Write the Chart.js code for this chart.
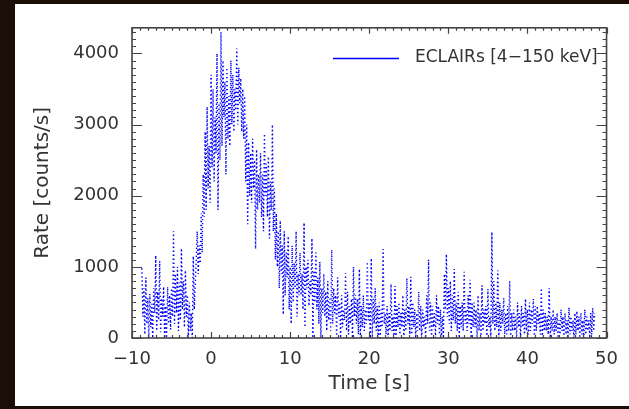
<!DOCTYPE html>
<html><head><meta charset="utf-8">
<script src="https://cdn.jsdelivr.net/npm/chart.js@4.4.0/dist/chart.umd.min.js"></script>
<style>
html,body{margin:0;padding:0;background:#1b0e06;width:629px;height:409px;overflow:hidden}
#panel{position:absolute;left:15px;top:4px;width:614px;height:402px;background:#fff}
</style></head><body>
<div id="panel"><canvas id="c" width="614" height="402"></canvas></div>
<script>
const seriesLabel = 'ECLAIRs [4\u2212150 keV]';
const xTitle = 'Time [s]';
const yTitle = 'Rate [counts/s]';
// light-curve bins: start time and bin width (s); 8 bins per row = 1 s
const binStart = -8.75;
const binWidth = 0.125;
const rates = [
  980, 300, 700, 50, 850, 200, 560, 0,
  620, 150, 480, 0, 700, 350, 1160, 100,
  650, 250, 1080, 80, 560, 300, 720, 0,
  450, 0, 720, 200, 600, 120, 700, 300,
  1500, 200, 900, 350, 1000, 100, 780, 250,
  1260, 400, 800, 150, 950, 300, 600, 0,
  500, 100, 350, 0, 1150, 400, 750, 1100,
  1500, 900, 1300, 1050, 1750, 1200, 2300, 1700,
  2900, 1800, 3250, 2100, 2700, 1900, 3700, 2400,
  3500, 2200, 3100, 2600, 4000, 1800, 3300, 2500,
  4300, 2700, 3900, 3100, 3600, 2300, 3800, 2800,
  3400, 2700, 3900, 3000, 3700, 2900, 3500, 3200,
  4070, 3000, 3800, 3300, 3650, 2900, 3500, 2800,
  3400, 2200, 3000, 1600, 2750, 2000, 2600, 1900,
  2800, 2100, 2500, 1250, 2650, 1800, 2300, 1900,
  2600, 1700, 2300, 1500, 2870, 2000, 2450, 1700,
  2550, 1400, 2200, 1800, 3000, 1500, 2100, 1100,
  1750, 1000, 1500, 700, 1650, 900, 1300, 330,
  1500, 600, 1200, 850, 1430, 400, 1000, 200,
  1300, 500, 1050, 700, 1500, 300, 900, 600,
  1200, 600, 900, 400, 1620, 150, 1000, 700,
  1100, 450, 800, 600, 1400, 0, 950, 500,
  1200, 400, 850, 200, 1070, 0, 700, 350,
  900, 300, 650, 100, 800, 250, 550, 100,
  1240, 200, 700, 350, 600, 0, 850, 300,
  500, 0, 600, 150, 400, 250, 910, 100,
  650, 50, 450, 200, 550, 0, 1000, 300,
  600, 200, 550, 50, 970, 0, 450, 150,
  600, 100, 400, 200, 1070, 250, 500, 0,
  1120, 0, 550, 200, 700, 100, 450, 0,
  500, 0, 400, 150, 1250, 200, 350, 50,
  450, 0, 350, 100, 760, 100, 300, 0,
  730, 0, 450, 150, 500, 50, 350, 150,
  600, 0, 400, 100, 840, 200, 450, 50,
  860, 50, 500, 150, 400, 0, 350, 100,
  650, 100, 450, 0, 400, 150, 300, 0,
  600, 200, 1100, 100, 500, 0, 450, 150,
  350, 0, 600, 200, 450, 50, 400, 0,
  300, 0, 900, 400, 1180, 300, 700, 200,
  800, 100, 600, 250, 970, 200, 500, 100,
  650, 0, 450, 150, 500, 100, 930, 200,
  400, 100, 600, 200, 820, 0, 500, 150,
  500, 150, 400, 0, 600, 100, 350, 0,
  740, 100, 400, 200, 450, 0, 690, 150,
  300, 0, 1490, 200, 800, 100, 500, 150,
  950, 0, 500, 100, 400, 200, 560, 50,
  350, 50, 450, 100, 800, 0, 350, 100,
  400, 100, 300, 0, 500, 150, 350, 0,
  450, 150, 350, 50, 550, 100, 400, 50,
  500, 100, 400, 200, 550, 0, 450, 100,
  450, 200, 350, 50, 700, 0, 400, 100,
  350, 100, 300, 50, 700, 0, 300, 100,
  400, 50, 300, 100, 350, 0, 250, 50,
  400, 100, 300, 0, 350, 50, 250, 0,
  430, 50, 300, 100, 250, 0, 350, 50,
  380, 100, 300, 0, 350, 50, 250, 0,
  400, 50, 300, 100, 250, 0, 350, 50,
  420, 100, 350
];
const xTicks = [-10, 0, 10, 20, 30, 40, 50];
const yTicks = [0, 1000, 2000, 3000, 4000];
const xRange = [-10, 50];
const yRange = [0, 4360];
const xMinorStep = 1;
const yMinorStep = 100;

const points = rates.map((r, i) => ({x: binStart + i * binWidth, y: r}));

const FONT = "'DejaVu Sans', sans-serif";
const TXT = '#333333';

const framePlugin = {
  id: 'frame',
  afterDatasetsDraw(chart) {
    const {ctx, chartArea: a, scales: {x, y}} = chart;
    ctx.save();
    ctx.strokeStyle = '#444';
    ctx.lineWidth = 1.2;
    ctx.beginPath();
    for (let v = xRange[0]; v <= xRange[1]; v += xMinorStep) {
      const px = Math.round(x.getPixelForValue(v)) + 0.5;
      const L = xTicks.includes(v) ? 6 : 3;
      ctx.moveTo(px, a.bottom); ctx.lineTo(px, a.bottom - L);
      ctx.moveTo(px, a.top); ctx.lineTo(px, a.top + L);
    }
    for (let v = yRange[0]; v <= yRange[1]; v += yMinorStep) {
      const py = Math.round(y.getPixelForValue(v)) + 0.5;
      const L = yTicks.includes(v) ? 10 : 4;
      ctx.moveTo(a.left, py); ctx.lineTo(a.left + L, py);
      ctx.moveTo(a.right, py); ctx.lineTo(a.right - L, py);
    }
    ctx.stroke();
    ctx.lineWidth = 1.6;
    ctx.strokeRect(a.left, a.top, a.right - a.left, a.bottom - a.top);
    // legend
    const ds = chart.data.datasets[0];
    ctx.strokeStyle = ds.borderColor;
    ctx.lineWidth = 1.6;
    ctx.beginPath();
    ctx.moveTo(318, 54.5); ctx.lineTo(384, 54.5);
    ctx.stroke();
    ctx.fillStyle = TXT;
    ctx.font = "17px " + FONT;
    ctx.textBaseline = 'middle';
    ctx.textAlign = 'left';
    ctx.fillText(ds.label, 400, 54);
    ctx.restore();
  }
};

new Chart(document.getElementById('c'), {
  type: 'line',
  data: {
    datasets: [{
      label: seriesLabel,
      data: points,
      borderColor: '#0000ff',
      borderWidth: 1.4,
      borderDash: [1.4, 2.6],
      pointRadius: 0,
      tension: 0,
      fill: false
    }]
  },
  options: {
    responsive: false,
    animation: false,
    events: [],
    layout: {padding: {left: 0, top: 13, right: 13, bottom: 0}},
    plugins: {legend: {display: false}, tooltip: {enabled: false}},
    scales: {
      x: {
        type: 'linear', min: xRange[0], max: xRange[1],
        afterBuildTicks: s => { s.ticks = xTicks.map(v => ({value: v})); },
        afterFit: s => { s.height = 68; },
        grid: {display: false, drawTicks: false},
        border: {display: false},
        ticks: {
          padding: 11, color: TXT, font: {family: FONT, size: 18},
          maxRotation: 0, autoSkip: false,
          callback: v => String(v).replace('-', '\u2212')
        },
        title: {display: true, text: xTitle, color: TXT, font: {family: FONT, size: 20}, padding: {top: 0, bottom: 10}}
      },
      y: {
        type: 'linear', min: yRange[0], max: yRange[1],
        afterBuildTicks: s => { s.ticks = yTicks.map(v => ({value: v})); },
        afterFit: s => { s.width = 117; },
        grid: {display: false, drawTicks: false},
        border: {display: false},
        ticks: {padding: 13, color: TXT, font: {family: FONT, size: 18}, autoSkip: false, callback: v => String(v)},
        title: {display: true, text: yTitle, color: TXT, font: {family: FONT, size: 20}, padding: {top: 16, bottom: 0}}
      }
    }
  },
  plugins: [framePlugin]
});
</script>
</body></html>
